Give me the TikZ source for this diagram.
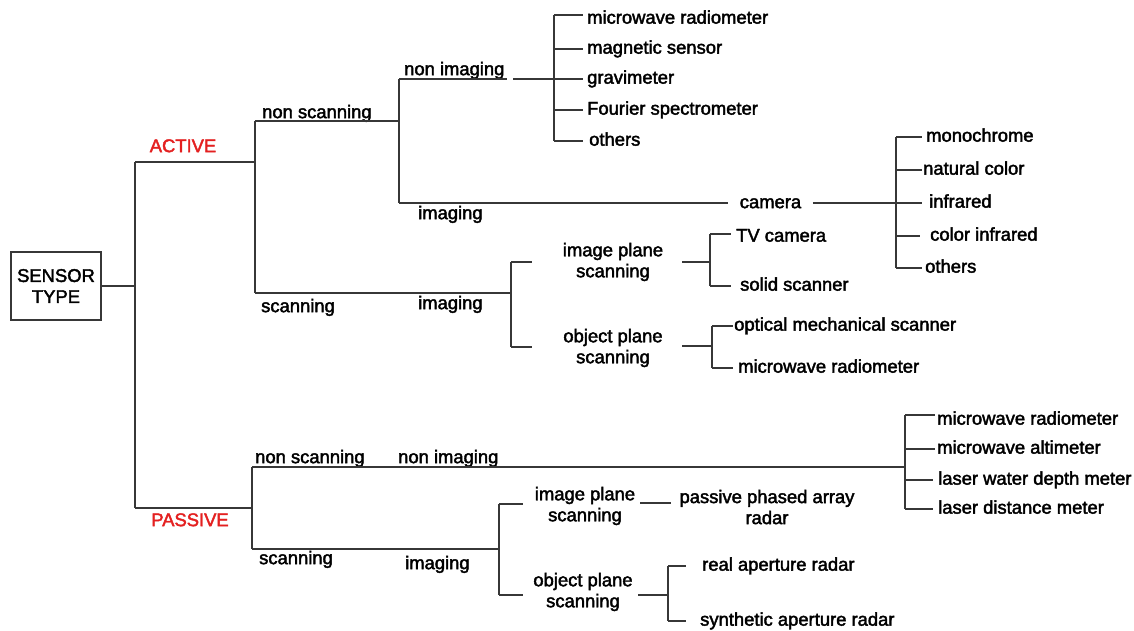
\documentclass[tikz,border=0pt]{standalone}
\usepackage{fontspec}
\setmainfont{Liberation Sans}
\newfontfamily\diagfont[FakeBold=2.2]{Liberation Sans}
\definecolor{sensorred}{RGB}{228,32,32}
\definecolor{linegray}{RGB}{55,55,55}
\begin{document}
\begin{tikzpicture}[x=1pt,y=-1pt,
  link/.style={draw=linegray, line width=1.2pt},
  txt/.style={font=\diagfont\fontsize{18.4}{21}\selectfont, inner sep=0pt, text=black},
  lbl/.style={txt, anchor=west, text height=13.2pt, text depth=3.9pt},
  leaf/.style={lbl, inner xsep=#1}, leaf/.default=4pt,
  twoline/.style={txt, align=center},
  kind/.style={txt, text=sensorred, text height=13.2pt, text depth=3.9pt}]

\fill[white] (0,0) rectangle (1134,630);
\useasboundingbox (0,0) rectangle (1134,630);

% root
\node[twoline, draw=linegray, line width=1.2pt, minimum width=90pt, minimum height=68pt] (root) at (56,286) {SENSOR\\TYPE};
\coordinate (rootJ) at (135,286);
\coordinate (act) at (135,162);
\coordinate (pas) at (135,508);
\draw[link] (root.east) -- (rootJ);
\draw[link] (act) -- (pas);
\node[kind] (lblAct) at (183,147.5) {ACTIVE};
\node[kind] (lblPas) at (190,521.5) {PASSIVE};

% ---------------- ACTIVE ----------------
\coordinate (aJ) at (255,162);
\coordinate (aNS) at (255,121);
\coordinate (aS) at (255,293);
\draw[link] (act) -- (aJ);
\draw[link] (aNS) -- (aS);
\node[lbl] (lblANS) at (262,113.5) {non scanning};
\node[lbl] (lblAS) at (261,307.5) {scanning};

% non scanning
\coordinate (aNSJ) at (399,121);
\coordinate (aNI) at (399,79);
\coordinate (aIm) at (399,203);
\draw[link] (aNS) -- (aNSJ);
\draw[link] (aNI) -- (aIm);
\node[lbl] (lblANI) at (404,70.5) {non imaging};
\node[lbl] (lblAIm) at (418,214.5) {imaging};
\coordinate (aNIgap) at (507,79);
\coordinate (aNIcont) at (513,79);
\coordinate (aNIJ) at (554,79);
\draw[link] (aNI) -- (aNIgap);
\draw[link] (aNIcont) -- (aNIJ);

\node[leaf] (a1) at (583,19) {microwave radiometer};
\node[leaf] (a2) at (583,49) {magnetic sensor};
\node[leaf] (a3) at (583,79) {gravimeter};
\node[leaf] (a4) at (583,110) {Fourier spectrometer};
\node[leaf=6pt] (a5) at (583,141) {others};
\coordinate (a1t) at ([yshift=4pt]a1.west);
\draw[link] (aNIJ |- a1t) -- (aNIJ |- a5.west);
\draw[link] (aNIJ |- a1t) -- (a1t);
\foreach \n in {a2,a3,a4,a5} \draw[link] (aNIJ |- \n.west) -- (\n.west);

% camera
\node[txt, inner xsep=11.5pt, text height=13.2pt, text depth=3.9pt] (cam) at (770.5,203.5) {camera};
\coordinate (camJ) at (896,203);
\draw[link] (aIm) -- (aIm -| cam.west);
\draw[link] (camJ -| cam.east) -- (camJ);
\node[leaf] (c1) at (922,137) {monochrome};
\node[leaf=1pt] (c2) at (922,170) {natural color};
\node[leaf=7pt] (c3) at (922,203) {infrared};
\node[leaf=10pt] (c4) at (920,236) {color infrared};
\node[leaf=3pt] (c5) at (922,268) {others};
\draw[link] (camJ |- c1.west) -- (camJ |- c5.west);
\foreach \n in {c1,c2,c3,c4,c5} \draw[link] (camJ |- \n.west) -- (\n.west);

% scanning
\coordinate (aSJ) at (511,293);
\draw[link] (aS) -- (aSJ);
\node[lbl] (lblASIm) at (418,304.5) {imaging};
\coordinate (ipsT) at (511,262);
\coordinate (opsT) at (511,347);
\draw[link] (ipsT) -- (opsT);
\coordinate (ipsL) at (532,262);
\coordinate (opsL) at (532,347);
\draw[link] (ipsT) -- (ipsL);
\draw[link] (opsT) -- (opsL);
\node[twoline] (ips) at (613,262) {image plane\\scanning};
\node[twoline] (ops) at (613,348) {object plane\\scanning};

\coordinate (ipsR) at (682,262);
\coordinate (ipsJ) at (710,262);
\draw[link] (ipsR) -- (ipsJ);
\node[leaf=5pt] (i1) at (731,237) {TV camera};
\node[leaf=9pt] (i2) at (731,286) {solid scanner};
\coordinate (i1t) at ([yshift=3pt]i1.west);
\draw[link] (ipsJ |- i1t) -- (ipsJ |- i2.west);
\draw[link] (ipsJ |- i1t) -- (i1t);
\draw[link] (ipsJ |- i2.west) -- (i2.west);

\coordinate (opsR) at (682,346);
\coordinate (opsJ) at (712,346);
\draw[link] (opsR) -- (opsJ);
\node[leaf=1pt] (o1) at (733,326) {optical mechanical scanner};
\node[leaf=5pt] (o2) at (733,368) {microwave radiometer};
\draw[link] (opsJ |- o1.west) -- (opsJ |- o2.west);
\foreach \n in {o1,o2} \draw[link] (opsJ |- \n.west) -- (\n.west);

% ---------------- PASSIVE ----------------
\coordinate (pJ) at (252,508);
\coordinate (pNS) at (252,467);
\coordinate (pS) at (252,549);
\draw[link] (pas) -- (pJ);
\draw[link] (pNS) -- (pS);
\node[lbl] (lblPNS) at (255,458.5) {non scanning};
\node[lbl] (lblPNI) at (398,458.5) {non imaging};
\node[lbl] (lblPS) at (259,559.5) {scanning};
\node[lbl] (lblPIm) at (405,564.5) {imaging};

% non scanning
\coordinate (pNIJ) at (905,467);
\draw[link] (pNS) -- (pNIJ);
\node[leaf=2pt] (p1) at (935,420) {microwave radiometer};
\node[leaf=2pt] (p2) at (935,449) {microwave altimeter};
\node[leaf=5pt] (p3) at (933,480) {laser water depth meter};
\node[leaf=5pt] (p4) at (933,509) {laser distance meter};
\coordinate (p1t) at ([yshift=5pt]p1.west);
\draw[link] (pNIJ |- p1t) -- (pNIJ |- p4.west);
\draw[link] (pNIJ |- p1t) -- (p1t);
\foreach \n in {p2,p3,p4} \draw[link] (pNIJ |- \n.west) -- (\n.west);

% scanning
\coordinate (pSJ) at (499,549);
\draw[link] (pS) -- (pSJ);
\coordinate (pipsT) at (499,504);
\coordinate (popsT) at (499,595);
\draw[link] (pipsT) -- (popsT);
\coordinate (pipsL) at (523,504);
\coordinate (popsL) at (523,595);
\draw[link] (pipsT) -- (pipsL);
\draw[link] (popsT) -- (popsL);
\node[twoline] (pips) at (585,506) {image plane\\scanning};
\node[twoline] (pops) at (583,592) {object plane\\scanning};

\coordinate (pipsR) at (640,503);
\node[twoline] (ppar) at (767,507) {passive phased array\\radar};
\coordinate (pparL) at (671,503);
\draw[link] (pipsR) -- (pparL);

\coordinate (popsR) at (638,595);
\coordinate (popsJ) at (668,595);
\draw[link] (popsR) -- (popsJ);
\node[leaf=16pt] (r1) at (686,566) {real aperture radar};
\node[leaf=14pt] (r2) at (686,621) {synthetic aperture radar};
\draw[link] (popsJ |- r1.west) -- (popsJ |- r2.west);
\foreach \n in {r1,r2} \draw[link] (popsJ |- \n.west) -- (\n.west);
\end{tikzpicture}
\end{document}
